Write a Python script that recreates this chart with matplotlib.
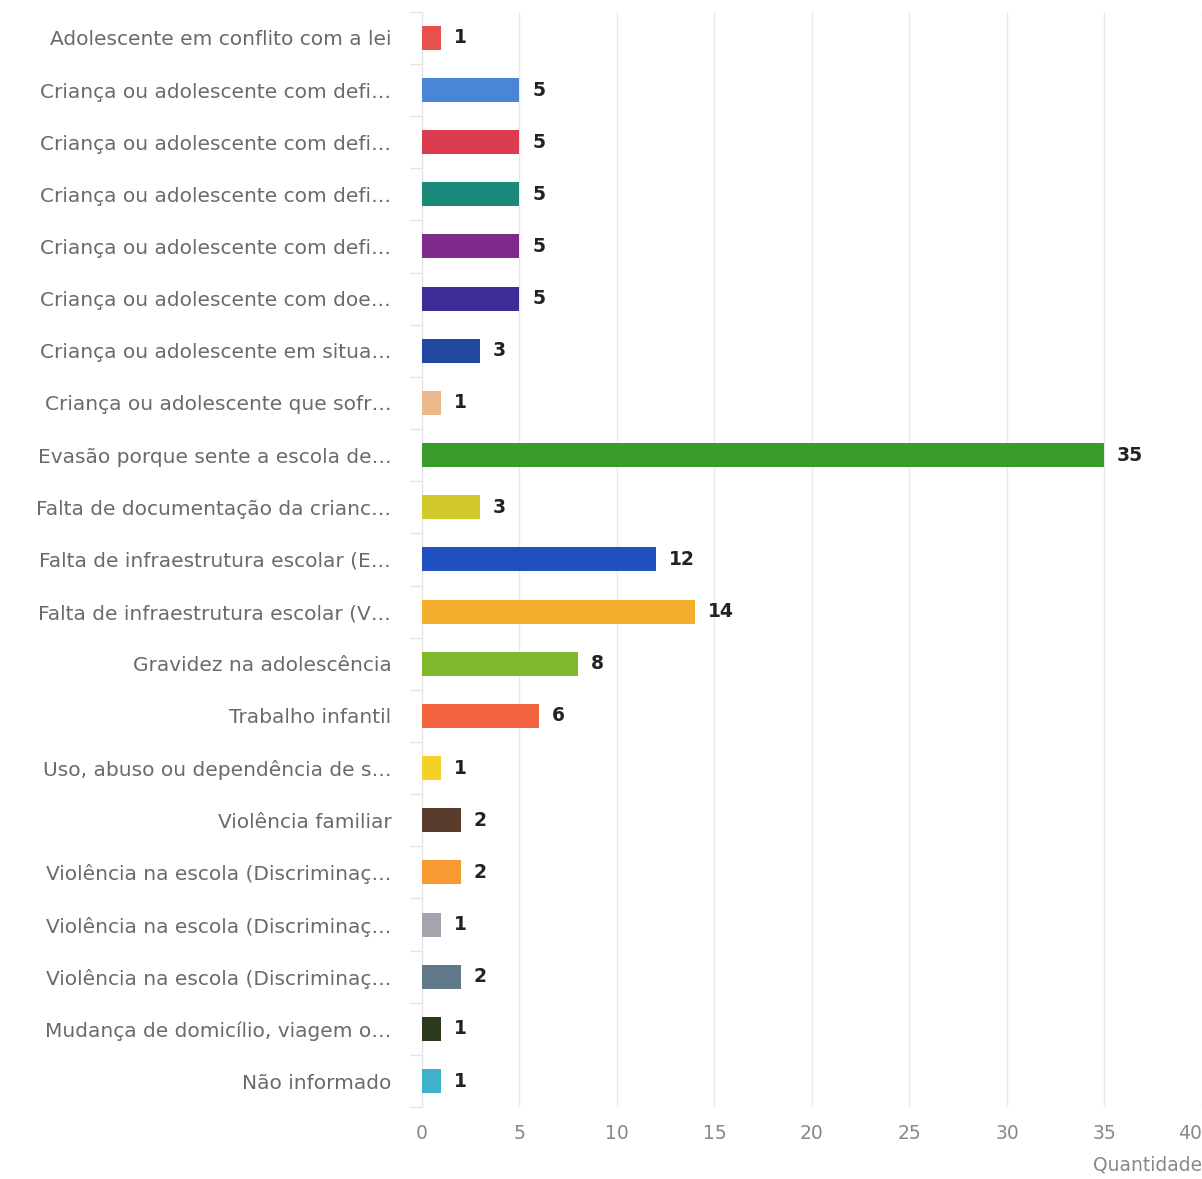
import numpy as np
import matplotlib
matplotlib.use("Agg")
import matplotlib.pyplot as plt
from matplotlib.ticker import FixedLocator

categories = [
    "Adolescente em conflito com a lei",
    "Criança ou adolescente com defi…",
    "Criança ou adolescente com defi…",
    "Criança ou adolescente com defi…",
    "Criança ou adolescente com defi…",
    "Criança ou adolescente com doe…",
    "Criança ou adolescente em situa…",
    "Criança ou adolescente que sofr…",
    "Evasão porque sente a escola de…",
    "Falta de documentação da crianc…",
    "Falta de infraestrutura escolar (E…",
    "Falta de infraestrutura escolar (V…",
    "Gravidez na adolescência",
    "Trabalho infantil",
    "Uso, abuso ou dependência de s…",
    "Violência familiar",
    "Violência na escola (Discriminaç…",
    "Violência na escola (Discriminaç…",
    "Violência na escola (Discriminaç…",
    "Mudança de domicílio, viagem o…",
    "Não informado",
]
values = [1, 5, 5, 5, 5, 5, 3, 1, 35, 3, 12, 14, 8, 6, 1, 2, 2, 1, 2, 1, 1]
colors = [
    "#ea4f4f", "#4a86d8", "#dc3c50", "#1b8a78", "#7d2a8a", "#3d2d96",
    "#1f48a0", "#ebb88e", "#3a9c2c", "#d2ca2c", "#1f50c0", "#f2b02c",
    "#80b82c", "#f26440", "#f2d222", "#5a3c2c", "#f89a32", "#a4a4ac",
    "#607888", "#2c3a1c", "#40b2c8",
]
xticks = [0, 5, 10, 15, 20, 25, 30, 35, 40]

fig = plt.figure(figsize=(12.02, 11.79), dpi=100)
ax = fig.add_axes([0.351, 0.061, 0.649, 0.929])

y = np.arange(len(categories))
ax.barh(y, values, height=0.46, color=colors, zorder=3)
for yi, v in zip(y, values):
    ax.text(v + 0.65, yi, str(v), va="center", ha="left", fontsize=13.5,
            fontweight="bold", color="#222222", zorder=4)

ax.set_ylim(len(categories) - 0.5, -0.5)
ax.set_xlim(0, 40)
ax.set_yticks(y)
ax.set_yticklabels(categories, fontsize=14.5, color="#6a6a6a")
ax.yaxis.set_minor_locator(FixedLocator(np.arange(-0.5, len(categories), 1)))
ax.tick_params(axis="y", which="major", length=0, pad=22)
ax.tick_params(axis="y", which="minor", length=9, color="#e4e4e4", width=1)
ax.set_xticks(xticks)
ax.tick_params(axis="x", length=0, pad=12, labelsize=13.5, labelcolor="#888888")
ax.get_xticklabels()[-1].set_horizontalalignment("right")
ax.grid(axis="x", color="#e8e8ee", lw=1, zorder=0)
for s in ["top", "right", "bottom"]:
    ax.spines[s].set_visible(False)
ax.spines["left"].set_color("#e4e4e4")
ax.set_xlabel("Quantidade", fontsize=13.5, color="#888888")
ax.xaxis.set_label_coords(1.0, -0.044)
ax.xaxis.label.set_horizontalalignment("right")

fig.savefig("out.png", dpi=100)
